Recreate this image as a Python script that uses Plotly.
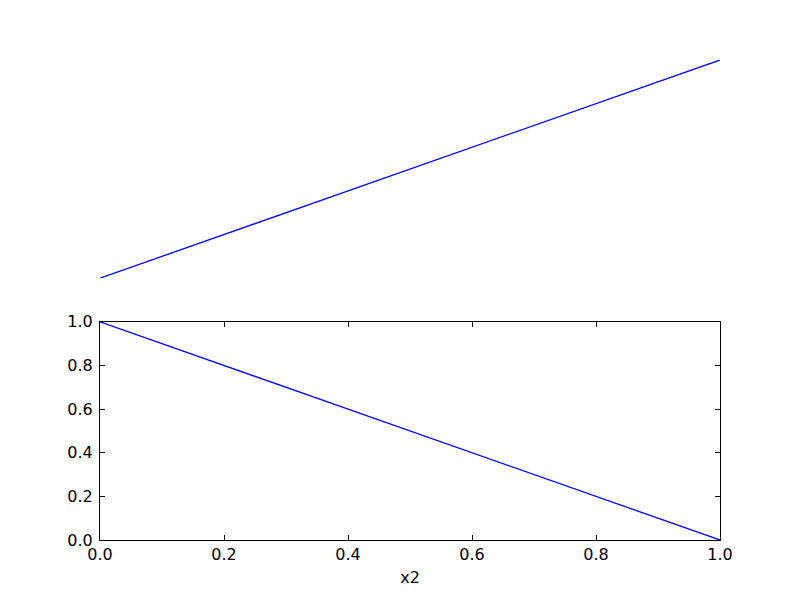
import plotly.graph_objects as go

x1 = [0, 1]
y1 = [0, 1]
x2 = [0, 1]
y2 = [1, 0]
tick_vals = [0.0, 0.2, 0.4, 0.6, 0.8, 1.0]
tick_text = ["0.0", "0.2", "0.4", "0.6", "0.8", "1.0"]

fig = go.Figure()
fig.add_trace(go.Scatter(x=x1, y=y1, mode="lines", line=dict(color="#0000ff", width=1.3),
                         xaxis="x", yaxis="y", showlegend=False, hoverinfo="skip"))
fig.add_trace(go.Scatter(x=x2, y=y2, mode="lines", line=dict(color="#0000ff", width=1.3),
                         xaxis="x2", yaxis="y2", showlegend=False, hoverinfo="skip"))

font = dict(family="DejaVu Sans", size=16, color="black")
common = dict(range=[0, 1], showgrid=False, zeroline=False, showline=True, linecolor="black",
              linewidth=1.2, mirror="ticks", ticks="inside", ticklen=5, tickwidth=1,
              tickcolor="black", tickvals=tick_vals, ticktext=tick_text, tickfont=font)

fig.update_layout(
    width=800, height=600,
    margin=dict(l=92, r=88, t=52, b=68),
    paper_bgcolor="white", plot_bgcolor="white",
    font=font,
    xaxis=dict(domain=[0, 1], range=[0, 1], visible=False, anchor="y"),
    yaxis=dict(domain=[0.5455, 1], range=[0, 1], visible=False, anchor="x"),
    xaxis2=dict(domain=[0, 1], anchor="y2", title=dict(text="x2", font=font, standoff=8), **common),
    yaxis2=dict(domain=[0, 0.4545], anchor="x2", ticklabelstandoff=3, **common),
)

fig.write_html("out.html")
